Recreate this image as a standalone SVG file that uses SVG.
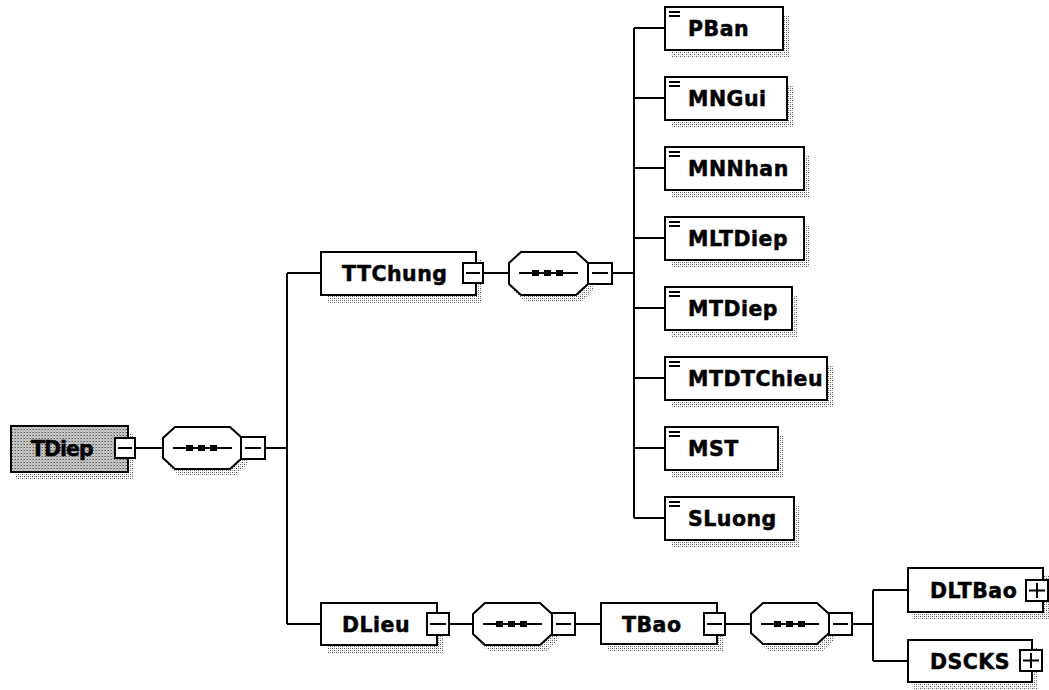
<svg xmlns="http://www.w3.org/2000/svg" width="1049" height="690" viewBox="0 0 1049 690">
<defs>
<pattern id="dots" width="4" height="4" patternUnits="userSpaceOnUse"><rect width="1" height="1" fill="#555"/><rect x="2" y="2" width="1" height="1" fill="#555"/><rect x="2" y="0" width="1" height="1" fill="#999"/><rect x="0" y="2" width="1" height="1" fill="#aaa"/></pattern>
<pattern id="fillg" width="3" height="3" patternUnits="userSpaceOnUse"><rect width="3" height="3" fill="#d0d0d0"/><rect width="1" height="1" fill="#555"/><rect x="1.5" y="1.5" width="1" height="1" fill="#777"/><rect x="2" y="0" width="1" height="1" fill="#999"/></pattern>
<g id="ico"><path d="M0,0H11M0,4H11" stroke="#000" stroke-width="2" fill="none"/></g>
</defs>
<style>
.box{fill:#fff;stroke:#000;stroke-width:2}
.root{fill:url(#fillg);stroke:#000;stroke-width:2}
.sh{fill:url(#dots)}
.ln{stroke:#000;stroke-width:2;fill:none}
.lbl{font-family:"DejaVu Sans",Verdana,sans-serif;font-weight:bold;font-size:20.5px;letter-spacing:0.5px;fill:#000;stroke:#000;stroke-width:0.5}
.dot{fill:#000}
</style>
<g id="connectors">
<path class="ln" d="M135,448H163M265,448H287M287,273V624M287,273H321M287,624H321"/>
<path class="ln" d="M483,273H509M612,273H634M634,28V518M634,28H665M634,98H665M634,168H665M634,238H665M634,308H665M634,378H665M634,448H665M634,518H665"/>
<path class="ln" d="M449,624H473M575,624H601M725,624H751M852,624H873M873,590V661M873,590H908M873,661H908"/>
</g>
<g id="TDiep">
<rect class="sh" x="16" y="433" width="117" height="46"/>
<rect class="root" x="11" y="426" width="117" height="46"/>
<text class="lbl" x="31" y="456" style="letter-spacing:-1px">TDiep</text>
<rect class="box" x="115" y="438" width="20" height="20"/><path class="ln" d="M118,448H132"/>
</g>
<g id="seq1">
<path class="sh" d="M180,434H235L247,445V465L235,476H180L168,465V445Z"/>
<path class="box" d="M175,427H230L242,438V458L230,469H175L163,458V438Z"/>
<path class="ln" d="M173,448H232"/><rect class="dot" x="186" y="445" width="7" height="6"/><rect class="dot" x="198" y="445" width="7" height="6"/><rect class="dot" x="210" y="445" width="7" height="6"/>
<rect class="box" x="241" y="437" width="24" height="22"/><path class="ln" d="M245,448H261"/>
</g>
<g id="TTChung">
<rect class="sh" x="327" y="260" width="155" height="43"/>
<rect class="box" x="321" y="252" width="155" height="43"/>
<text class="lbl" x="342" y="281">TTChung</text>
<rect class="box" x="463" y="263" width="20" height="20"/><path class="ln" d="M466,273H480"/>
</g>
<g id="seq2">
<path class="sh" d="M526,259H581L593,270V291L581,302H526L514,291V270Z"/>
<path class="box" d="M521,252H576L588,263V284L576,295H521L509,284V263Z"/>
<path class="ln" d="M519,273H578"/><rect class="dot" x="532" y="270" width="7" height="6"/><rect class="dot" x="544" y="270" width="7" height="6"/><rect class="dot" x="556" y="270" width="7" height="6"/>
<rect class="box" x="588" y="263" width="24" height="21"/><path class="ln" d="M592,273H608"/>
</g>
<g id="PBan"><rect class="sh" x="671" y="15" width="118" height="43"/><rect class="box" x="665" y="7" width="118" height="43"/><use href="#ico" x="669" y="12"/><text class="lbl" x="688" y="36">PBan</text></g>
<g id="MNGui"><rect class="sh" x="671" y="85" width="122" height="43"/><rect class="box" x="665" y="77" width="122" height="43"/><use href="#ico" x="669" y="82"/><text class="lbl" x="688" y="106">MNGui</text></g>
<g id="MNNhan"><rect class="sh" x="671" y="155" width="139" height="43"/><rect class="box" x="665" y="147" width="139" height="43"/><use href="#ico" x="669" y="152"/><text class="lbl" x="688" y="176">MNNhan</text></g>
<g id="MLTDiep"><rect class="sh" x="671" y="225" width="139" height="43"/><rect class="box" x="665" y="217" width="139" height="43"/><use href="#ico" x="669" y="222"/><text class="lbl" x="688" y="246">MLTDiep</text></g>
<g id="MTDiep"><rect class="sh" x="671" y="295" width="127" height="43"/><rect class="box" x="665" y="287" width="127" height="43"/><use href="#ico" x="669" y="292"/><text class="lbl" x="688" y="316">MTDiep</text></g>
<g id="MTDTChieu"><rect class="sh" x="671" y="365" width="162" height="43"/><rect class="box" x="665" y="357" width="162" height="43"/><use href="#ico" x="669" y="362"/><text class="lbl" x="688" y="386">MTDTChieu</text></g>
<g id="MST"><rect class="sh" x="671" y="435" width="113" height="43"/><rect class="box" x="665" y="427" width="113" height="43"/><use href="#ico" x="669" y="432"/><text class="lbl" x="688" y="456">MST</text></g>
<g id="SLuong"><rect class="sh" x="671" y="505" width="129" height="43"/><rect class="box" x="665" y="497" width="129" height="43"/><use href="#ico" x="669" y="502"/><text class="lbl" x="688" y="526">SLuong</text></g>
<g id="DLieu">
<rect class="sh" x="327" y="611" width="116" height="42"/>
<rect class="box" x="321" y="603" width="116" height="42"/>
<text class="lbl" x="342" y="632">DLieu</text>
<rect class="box" x="427" y="613" width="22" height="22"/><path class="ln" d="M430,624H446"/>
</g>
<g id="seq3">
<path class="sh" d="M490,610H545L557,621V641L545,652H490L478,641V621Z"/>
<path class="box" d="M485,603H540L552,614V634L540,645H485L473,634V614Z"/>
<path class="ln" d="M483,624H542"/><rect class="dot" x="496" y="621" width="7" height="6"/><rect class="dot" x="508" y="621" width="7" height="6"/><rect class="dot" x="520" y="621" width="7" height="6"/>
<rect class="box" x="552" y="613" width="23" height="22"/><path class="ln" d="M556,624H571"/>
</g>
<g id="TBao">
<rect class="sh" x="607" y="611" width="116" height="41"/>
<rect class="box" x="601" y="603" width="116" height="41"/>
<text class="lbl" x="622" y="632">TBao</text>
<rect class="box" x="704" y="613" width="21" height="22"/><path class="ln" d="M707,624H722"/>
</g>
<g id="seq4">
<path class="sh" d="M768,610H822L834,621V640L822,651H768L756,640V621Z"/>
<path class="box" d="M763,603H817L829,614V633L817,644H763L751,633V614Z"/>
<path class="ln" d="M761,624H819"/><rect class="dot" x="774" y="621" width="7" height="6"/><rect class="dot" x="786" y="621" width="7" height="6"/><rect class="dot" x="798" y="621" width="7" height="6"/>
<rect class="box" x="829" y="613" width="23" height="22"/><path class="ln" d="M833,624H848"/>
</g>
<g id="DLTBao">
<rect class="sh" x="914" y="576" width="135" height="44"/>
<rect class="box" x="908" y="568" width="135" height="44"/>
<text class="lbl" x="930" y="598">DLTBao</text>
<rect class="box" x="1026" y="580" width="22" height="21"/><path class="ln" d="M1029,590.5H1045M1037,583V598"/>
</g>
<g id="DSCKS">
<rect class="sh" x="914" y="648" width="124" height="42"/>
<rect class="box" x="908" y="640" width="124" height="42"/>
<text class="lbl" x="930" y="669">DSCKS</text>
<rect class="box" x="1020" y="650" width="22" height="21"/><path class="ln" d="M1023,660.5H1039M1031,653V668"/>
</g>
</svg>
